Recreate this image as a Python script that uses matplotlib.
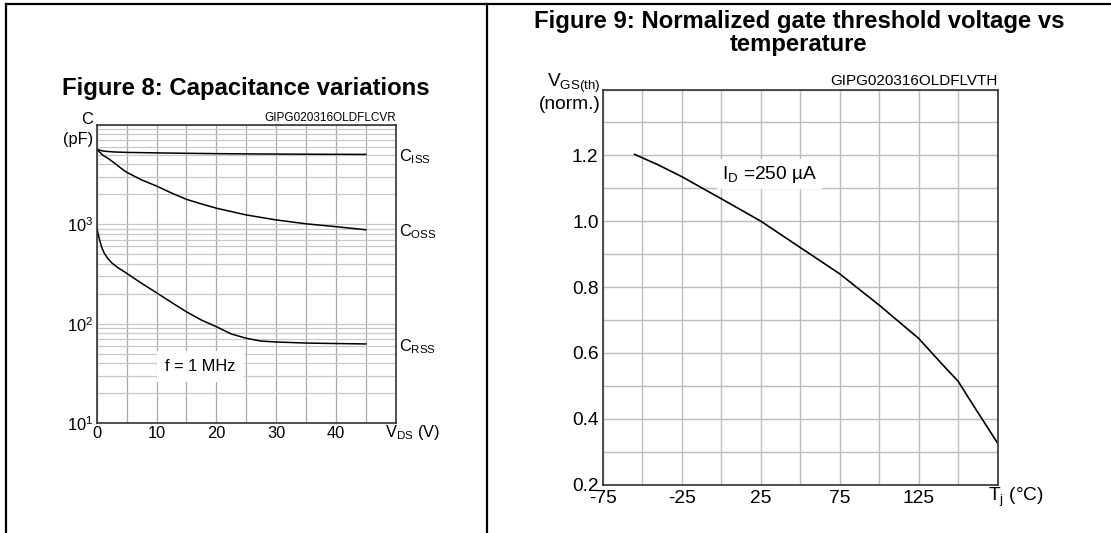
import numpy as np
import matplotlib
matplotlib.use('Agg')
from matplotlib import pyplot as plt
from matplotlib.lines import Line2D
from matplotlib.ticker import FixedLocator, NullFormatter

plt.rcParams['font.family'] = ['Liberation Sans', 'DejaVu Sans']
plt.rcParams['mathtext.fontset'] = 'custom'
plt.rcParams['mathtext.rm'] = 'Liberation Sans'

# Figure 8: capacitance vs V_DS (pF)
vds_iss = [0, 0.5, 1, 2, 3, 5, 10, 15, 20, 25, 30, 35, 40, 45]
c_iss = [5700, 5550, 5450, 5370, 5320, 5270, 5210, 5160, 5120, 5090, 5070, 5050, 5040, 5030]
vds_oss = [0, 0.25, 0.5, 1, 1.5, 2, 3, 4, 5, 7.5, 10, 12.5, 15, 17.5, 20, 25, 30, 35, 40, 45]
c_oss = [5700, 5480, 5300, 4950, 4740, 4550, 4100, 3680, 3330, 2790, 2420, 2060, 1780,
         1600, 1450, 1240, 1105, 1010, 945, 880]
vds_rss = [0, 0.1, 0.2, 0.35, 0.5, 0.8, 1.2, 1.8, 2.5, 3.5, 5, 7.5, 10, 12.5, 15, 17.5,
           20, 22.5, 25, 27.5, 30, 35, 40, 45]
c_rss = [950, 880, 820, 750, 690, 595, 520, 458, 410, 368, 322, 255, 205, 164, 132, 109,
         93.5, 79, 71.5, 67, 65.6, 64, 63.3, 62.7]
vds_ticks = [0, 10, 20, 30, 40]
c_ticklabels = ['10$^\\mathregular{1}$', '10$^\\mathregular{2}$', '10$^\\mathregular{3}$']

# Figure 9: normalized threshold voltage vs temperature
tj = [-55, -40, -25, 0, 25, 50, 75, 100, 125, 140, 150, 160, 175]
vth = [1.203, 1.171, 1.135, 1.068, 1.0, 0.92, 0.84, 0.745, 0.644, 0.565, 0.514, 0.438, 0.326]
tj_ticks = [-75, -25, 25, 75, 125]
vth_ticks = [0.2, 0.4, 0.6, 0.8, 1.0, 1.2]

W, H = 1111, 533
fig = plt.figure(figsize=(W / 100, H / 100), dpi=100)


def px_rect(l, t, r, b):
    return [l / W, 1 - b / H, (r - l) / W, (b - t) / H]


# frame lines around the two panels
for xs, ys in [([5.5, W], [3.5, 3.5]), ([5.5, 5.5], [3.5, H]), ([487, 487], [3.5, H])]:
    fig.add_artist(Line2D([x / W for x in xs], [1 - y / H for y in ys],
                          color='black', lw=1.6))

fig.text(246 / W, 1 - 88 / H, 'Figure 8: Capacitance variations',
         ha='center', va='center', fontsize=17.2, fontweight='bold')
fig.text(799 / W, 1 - 32.5 / H, 'Figure 9: Normalized gate threshold voltage vs\ntemperature',
         ha='center', va='center', fontsize=17.2, fontweight='bold', linespacing=1.0)

# ---- left chart ----
ax1 = fig.add_axes(px_rect(96.7, 124.7, 395.7, 423.3))
ax1.set_yscale('log')
ax1.set_xlim(0, 50)
ax1.set_ylim(10, 10000)
xt1 = np.arange(0, 51, 5)
ax1.set_xticks(xt1)
ax1.set_xticklabels([str(v) if v in vds_ticks else '' for v in xt1])
ax1.set_yticks([10, 100, 1000, 10000])
ax1.set_yticklabels(c_ticklabels + [''])
ax1.yaxis.set_minor_locator(FixedLocator([m * 10 ** d for d in range(1, 4) for m in range(2, 10)]))
ax1.yaxis.set_minor_formatter(NullFormatter())
ax1.tick_params(which='both', length=0, labelsize=11.8)
ax1.tick_params(axis='y', pad=2.5)
ax1.tick_params(axis='x', pad=2)
ax1.grid(axis='x', color='#a8a8a8', lw=0.9)
ax1.grid(axis='y', which='both', color='#c8c8c8', lw=0.9)
ax1.set_axisbelow(True)
for s in ax1.spines.values():
    s.set_color('#333333')
    s.set_linewidth(1.2)

ax1.plot(vds_iss, c_iss, color='black', lw=1.1)
ax1.plot(vds_oss, c_oss, color='black', lw=1.1)
ax1.plot(vds_rss, c_rss, color='black', lw=1.1)

ax1.text(50.55, 4780, 'C$_\\mathregular{ISS}$', ha='left', va='center', fontsize=11.8, clip_on=False)
ax1.text(50.55, 843, 'C$_\\mathregular{OSS}$', ha='left', va='center', fontsize=11.8, clip_on=False)
ax1.text(50.55, 58.9, 'C$_\\mathregular{RSS}$', ha='left', va='center', fontsize=11.8, clip_on=False)
ax1.text(17.3, 37, 'f = 1 MHz', ha='center', va='center', fontsize=11.8,
         bbox=dict(boxstyle='square,pad=0.5', fc='white', ec='none'))
ax1.text(1.0, 1.003, 'GIPG020316OLDFLCVR', transform=ax1.transAxes,
         ha='right', va='bottom', fontsize=8.5)
ax1.text(-0.0114, 1.016, 'C', transform=ax1.transAxes, ha='right', va='center', fontsize=11.8)
ax1.text(-0.0114, 0.949, '(pF)', transform=ax1.transAxes, ha='right', va='center', fontsize=11.8)
ax1.text(1.0545, -0.0315, 'V$_\\mathregular{DS}$ (V)', transform=ax1.transAxes,
         ha='center', va='center', fontsize=11.8)

# ---- right chart ----
ax2 = fig.add_axes(px_rect(603, 89.5, 997.5, 484.5))
ax2.set_xlim(-75, 175)
ax2.set_ylim(0.2, 1.4)
xt = np.arange(-75, 176, 25)
ax2.set_xticks(xt)
ax2.set_xticklabels([str(v) if v in tj_ticks else '' for v in xt])
yt = np.round(np.arange(0.2, 1.41, 0.1), 1)
ax2.set_yticks(yt)
ax2.set_yticklabels([f'{v:.1f}' if v in vth_ticks else '' for v in yt])
ax2.tick_params(length=0, labelsize=13.8)
ax2.tick_params(axis='y', pad=3.2)
ax2.tick_params(axis='x', pad=4.2)
ax2.grid(color='#bcbcbc', lw=1.0)
ax2.set_axisbelow(True)
for s in ax2.spines.values():
    s.set_color('#333333')
    s.set_linewidth(1.2)

ax2.plot(tj, vth, color='black', lw=1.2)

ax2.text(0.5, 1.143, 'I$_\\mathregular{D}$ =250 µA', ha='left', va='center', fontsize=13.8,
         bbox=dict(boxstyle='square,pad=0.25', fc='white', ec='none'))
ax2.text(1.0, 1.004, 'GIPG020316OLDFLVTH', transform=ax2.transAxes,
         ha='right', va='bottom', fontsize=11)
ax2.text(-0.005, 1.016, 'V$_\\mathregular{GS(th)}$', transform=ax2.transAxes,
         ha='right', va='center', fontsize=13.8)
ax2.text(-0.005, 0.963, '(norm.)', transform=ax2.transAxes,
         ha='right', va='center', fontsize=13.8)
ax2.text(1.0456, -0.0316, 'T$_\\mathregular{j}$ (°C)', transform=ax2.transAxes,
         ha='center', va='center', fontsize=13.8)

fig.savefig('out.png', dpi=100)
